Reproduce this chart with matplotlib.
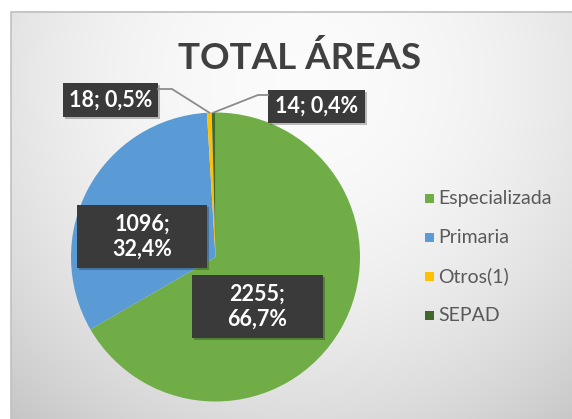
import numpy as np
import matplotlib
matplotlib.use("Agg")
import matplotlib.pyplot as plt
from matplotlib.patches import Rectangle

# data
categories = ["Especializada", "Primaria", "Otros(1)", "SEPAD"]
values = [2255, 1096, 18, 14]
colors = ["#70AD47", "#5B9BD5", "#FFC000", "#42692C"]
title = "TOTAL ÁREAS"

plt.rcParams["font.family"] = ["Lato", "DejaVu Sans"]

W, H = 572, 419
fig = plt.figure(figsize=(W / 100, H / 100), dpi=100)

# background with soft radial shading
bg = fig.add_axes([0, 0, 1, 1], zorder=0)
yy, xx = np.mgrid[0:H, 0:W]
d = np.hypot(xx - 300, (yy - 80) * 1.0)
v = 0.985 - 0.21 * (d / 445) ** 2
img = np.dstack([v, v, v])
img[(xx < 11) | (yy < 12)] = 1.0
bg.imshow(img, extent=[0, W, H, 0], aspect="auto", interpolation="bilinear")
bg.plot([11, 11, W], [H, 12, 12], color="#c0c0c0", lw=1.2)
bg.set_xlim(0, W)
bg.set_ylim(H, 0)
bg.axis("off")

# pie
cx, cy, r = 215.5, 257, 144.5
pax = fig.add_axes([(cx - r) / W, (H - cy - r) / H, 2 * r / W, 2 * r / H], zorder=1)
pax.pie(values, colors=colors, startangle=90, counterclock=False,
        wedgeprops=dict(linewidth=0.3, edgecolor="none"))
pax.set_xlim(-1, 1)
pax.set_ylim(-1, 1)
pax.axis("off")

# overlay in pixel coords
ov = fig.add_axes([0, 0, 1, 1], zorder=2)
ov.set_xlim(0, W)
ov.set_ylim(H, 0)
ov.axis("off")

total = sum(values)
pcts = [v_ / total * 100 for v_ in values]


def fmt(val, pct, two_lines):
    p = f"{pct:.1f}".replace(".", ",")
    sep = ";\n" if two_lines else "; "
    return f"{val}{sep}{p}%"


# label boxes: (x0, y0, x1, y1, two_lines)
boxes = [
    (192, 275, 323, 338, True),
    (77, 205, 207, 268, True),
    (63, 83, 158, 117, False),
    (268, 90, 365, 123, False),
]
for i, (x0, y0, x1, y1, two) in enumerate(boxes):
    ov.add_patch(Rectangle((x0 + 2, y0 + 2), x1 - x0, y1 - y0,
                           facecolor="#000000", alpha=0.25, edgecolor="none"))
    ov.add_patch(Rectangle((x0, y0), x1 - x0, y1 - y0,
                           facecolor="#3a3a3a", edgecolor="none"))
    ov.text((x0 + x1) / 2, (y0 + y1) / 2, fmt(values[i], pcts[i], two),
            color="white", fontsize=15.5, fontweight="bold",
            ha="center", va="center", linespacing=1.25)

# leader lines for the small slices: (slice, box x, box y, knee x)
cum = np.cumsum([0] + values)
for i, x_box, y_box, x_knee in [(2, 158, 89, 172), (3, 268, 95, 258)]:
    mid = 90 - 360 * (cum[i] + values[i] / 2) / total
    px = cx + r * np.cos(np.radians(mid))
    py = cy - r * np.sin(np.radians(mid))
    ov.plot([x_box, x_knee, px], [y_box, y_box, py], color="#8c8c8c", lw=1.3)

# title
ov.text(300, 58, title, fontsize=26.5, fontweight="bold", color="#404040",
        ha="center", va="center")

# legend
ly0, dy = 198, 39
for i, (cat, col) in enumerate(zip(categories, colors)):
    y = ly0 + i * dy
    ov.add_patch(Rectangle((425, y - 4.5), 9, 9, facecolor=col, edgecolor="none"))
    ov.text(438, y, cat, fontsize=14, color="#595959", ha="left", va="center")

fig.savefig("out.png", dpi=100)
